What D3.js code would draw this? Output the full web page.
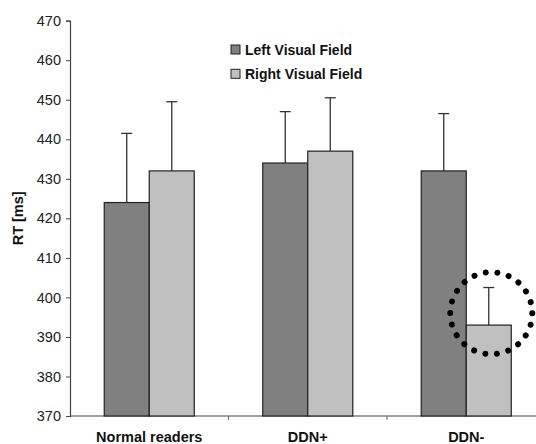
<!DOCTYPE html>
<html>
<head>
<meta charset="utf-8">
<script src="https://cdn.jsdelivr.net/npm/d3@7"></script>
<style>
  body { margin: 0; background: #fff; }
  text { font-family: "Liberation Sans", Arial, sans-serif; }
</style>
</head>
<body>
<div id="app"></div>
<script>
// chart data
const groups = ["Normal readers", "DDN+", "DDN-"];
const seriesNames = ["Left Visual Field", "Right Visual Field"];
const leftMeans = [424, 434, 432];
const rightMeans = [432, 437, 393];
const leftErrTop = [441.5, 447, 446.5];
const rightErrTop = [449.5, 450.5, 402.5];
const yTicks = [370, 380, 390, 400, 410, 420, 430, 440, 450, 460, 470];
// highlighted bar (dotted circle)
const highlight = { group: "DDN-", series: "Right Visual Field", value: 396 };

const colors = { "Left Visual Field": "#808080", "Right Visual Field": "#c0c0c0" };

const W = 536, H = 444;
const margin = { left: 70, top: 20.7, bottom: 28 };

// build rows from arrays
const rows = [];
groups.forEach((g, i) => {
  rows.push({ group: g, series: seriesNames[0], mean: leftMeans[i], err: leftErrTop[i] });
  rows.push({ group: g, series: seriesNames[1], mean: rightMeans[i], err: rightErrTop[i] });
});

const svg = d3.select("#app").append("svg")
  .attr("width", W).attr("height", H);

const y = d3.scaleLinear().domain([370, 470]).range([416, margin.top]);

const x0 = d3.scaleBand().domain(groups)
  .range([margin.left, 545.5])
  .paddingInner(0.432).paddingOuter(0.216);
const x1 = d3.scaleBand().domain(seriesNames).range([0, x0.bandwidth()]);

// y axis
const yAxis = svg.append("g")
  .attr("transform", `translate(${margin.left},0)`)
  .call(d3.axisLeft(y).tickValues(yTicks).tickSize(4).tickPadding(5));
yAxis.select(".domain").attr("stroke", "#444").attr("stroke-width", 1.2);
yAxis.selectAll(".tick line").attr("stroke", "#444");
yAxis.selectAll(".tick text").attr("fill", "#222").style("font-size", "14.5px");

// x axis line with category boundary ticks
const step = x0.step();
const xAxisG = svg.append("g");
xAxisG.append("line")
  .attr("x1", margin.left).attr("x2", W)
  .attr("y1", y(370)).attr("y2", y(370))
  .attr("stroke", "#444").attr("stroke-width", 1.2);
xAxisG.selectAll(".bound")
  .data(groups.slice(1))
  .enter().append("line")
  .attr("x1", (d) => x0(d) - x0.paddingInner() * step / 2)
  .attr("x2", (d) => x0(d) - x0.paddingInner() * step / 2)
  .attr("y1", y(370)).attr("y2", y(370) + 4)
  .attr("stroke", "#666");
xAxisG.selectAll(".xlabel")
  .data(groups)
  .enter().append("text")
  .attr("x", (d) => x0(d) + x0.bandwidth() / 2)
  .attr("y", 442)
  .attr("text-anchor", "middle")
  .style("font-size", "14.5px")
  .style("font-weight", "bold")
  .attr("fill", "#111")
  .text((d) => d);

// y label
svg.append("text")
  .attr("transform", `translate(23,${(y(370) + y(470)) / 2}) rotate(-90)`)
  .attr("text-anchor", "middle")
  .style("font-size", "14.5px")
  .style("font-weight", "bold")
  .attr("fill", "#111")
  .text("RT [ms]");

// error bars (upper only), drawn behind bars
const capW = 11;
const errG = svg.append("g");
rows.forEach((r) => {
  const cx = x0(r.group) + x1(r.series) + x1.bandwidth() / 2;
  errG.append("line")
    .attr("x1", cx).attr("x2", cx)
    .attr("y1", y(r.mean)).attr("y2", y(r.err))
    .attr("stroke", "#333").attr("stroke-width", 1.3);
  errG.append("line")
    .attr("x1", cx - capW / 2).attr("x2", cx + capW / 2)
    .attr("y1", y(r.err)).attr("y2", y(r.err))
    .attr("stroke", "#333").attr("stroke-width", 1.3);
});

// bars
svg.append("g").selectAll("rect")
  .data(rows)
  .enter().append("rect")
  .attr("x", (d) => x0(d.group) + x1(d.series))
  .attr("y", (d) => y(d.mean))
  .attr("width", x1.bandwidth())
  .attr("height", (d) => y(370) - y(d.mean))
  .attr("fill", (d) => colors[d.series])
  .attr("stroke", "#222")
  .attr("stroke-width", 1.2);

// legend
const legend = svg.append("g").attr("transform", "translate(231,45)");
seriesNames.forEach((s, i) => {
  legend.append("rect")
    .attr("x", 0).attr("y", i * 24.3)
    .attr("width", 9).attr("height", 9)
    .attr("fill", colors[s]).attr("stroke", "#222").attr("stroke-width", 1);
  legend.append("text")
    .attr("x", 14).attr("y", i * 24.3 + 9.5)
    .style("font-size", "14px")
    .style("font-weight", "bold")
    .attr("fill", "#111")
    .text(s);
});

// dotted circle annotation
const hx = x0(highlight.group) + x1(highlight.series) + x1.bandwidth() / 2 + 2.5;
svg.append("circle")
  .attr("cx", hx)
  .attr("cy", y(highlight.value))
  .attr("r", 41)
  .attr("fill", "none")
  .attr("stroke", "#000")
  .attr("stroke-width", 6)
  .attr("stroke-linecap", "round")
  .attr("stroke-dasharray", "0.01 11.7");
</script>
</body>
</html>
